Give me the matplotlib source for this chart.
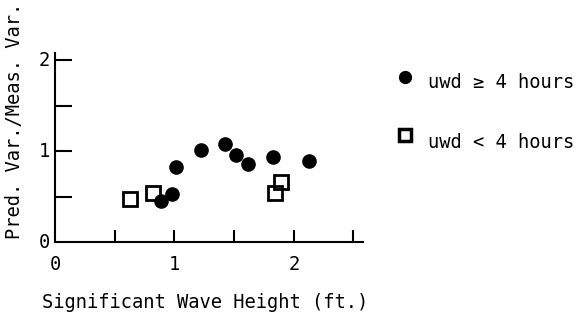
import matplotlib
matplotlib.use("Agg")
import matplotlib.pyplot as plt
from matplotlib.lines import Line2D

# uwd >= 4 hours (filled circles)
x_long = [0.89, 0.98, 1.01, 1.22, 1.42, 1.52, 1.62, 1.83, 2.13]
y_long = [0.45, 0.53, 0.82, 1.01, 1.08, 0.96, 0.86, 0.93, 0.89]

# uwd < 4 hours (open squares)
x_short = [0.63, 0.82, 1.84, 1.89]
y_short = [0.47, 0.54, 0.54, 0.66]

x_ticks = [0, 1, 2]
y_ticks = [0, 1, 2]
label_long = "uwd \u2265 4 hours"
label_short = "uwd < 4 hours"

plt.rcParams['font.family'] = ['DejaVu Sans Mono', 'DejaVu Sans']
fs = 13.5

fig = plt.figure(figsize=(5.77, 3.2), dpi=100)
ax = fig.add_axes([55 / 577, 1 - 242 / 320, (363 - 55) / 577, (242 - 53) / 320])

ax.plot(x_long, y_long, 'o', color='black', markersize=9.5, clip_on=False)
ax.plot(x_short, y_short, 's', markerfacecolor='none', markeredgecolor='black',
        markeredgewidth=2, markersize=9.5, clip_on=False)

ax.set_xlim(0, 2.58)
ax.set_ylim(0, 2.08)

for side in ['top', 'right']:
    ax.spines[side].set_visible(False)
for side in ['left', 'bottom']:
    ax.spines[side].set_linewidth(1.5)

ax.set_xticks([0.5, 1, 1.5, 2, 2.5])
ax.set_xticklabels([])
ax.set_yticks([0.5, 1, 1.5, 2])
ax.set_yticklabels([])
ax.tick_params(axis='x', direction='in', length=9, width=1.5)
ax.tick_params(axis='y', direction='in', length=12, width=1.5)

# tick labels only at whole numbers
for v in x_ticks:
    ax.text(v, -0.25, str(v), ha='center', va='center', fontsize=fs, clip_on=False)
for v in y_ticks:
    ax.text(-0.04, v, str(v), ha='right', va='center', fontsize=fs, clip_on=False)

fig.text(205 / 577, 1 - 302 / 320, "Significant Wave Height (ft.)",
         ha='center', va='center', fontsize=fs)
fig.text(15 / 577, 1 - 121 / 320, "Pred. Var./Meas. Var.", rotation=90,
         ha='center', va='center', fontsize=fs)

# legend drawn by hand
fig.add_artist(Line2D([405 / 577], [1 - 77 / 320], marker='o', color='black',
                      markersize=8.5, linestyle='none'))
fig.text(428 / 577, 1 - 82 / 320, label_long, ha='left', va='center', fontsize=fs)
fig.add_artist(Line2D([405 / 577], [1 - 135 / 320], marker='s', markerfacecolor='none',
                      markeredgecolor='black', markeredgewidth=2.5, markersize=9,
                      linestyle='none'))
fig.text(428 / 577, 1 - 142 / 320, label_short, ha='left', va='center', fontsize=fs)

fig.savefig("out.png", dpi=100)
